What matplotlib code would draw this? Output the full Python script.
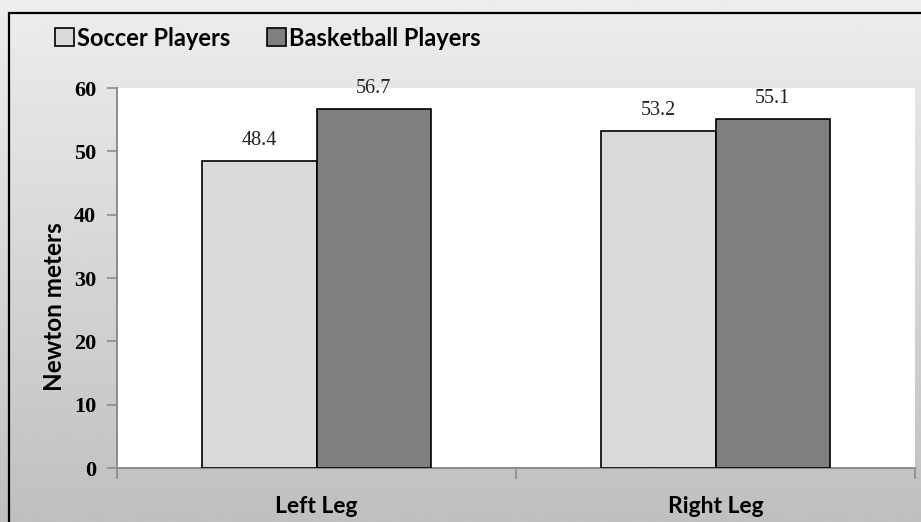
import matplotlib; matplotlib.use('Agg')
import matplotlib.pyplot as plt, numpy as np
from matplotlib.patches import Rectangle

W, H = 921, 522
fig = plt.figure(figsize=(W / 100, H / 100), dpi=100)

categories = ['Left Leg', 'Right Leg']
series_names = ['Soccer Players', 'Basketball Players']
soccer = [48.4, 53.2]
basketball = [56.7, 55.1]
yticks = [0, 10, 20, 30, 40, 50, 60]

LIGHT, DARK, AXIS = '#d9d9d9', '#7f7f7f', '#8c8c8c'
SERIF = 'Liberation Serif'
SANS = 'Lato'

# gradient backdrop behind everything
bg = fig.add_axes([0, 0, 1, 1], zorder=0)
grad = np.linspace(0.93, 0.75, 256).reshape(-1, 1)
bg.imshow(grad, cmap='gray', vmin=0, vmax=1, aspect='auto', extent=[0, 1, 0, 1])
bg.set_xlim(0, 1); bg.set_ylim(0, 1)
bg.axis('off')
# chart frame (left and top visible)
bg.add_patch(Rectangle((9 / W, -0.05), 1.2, (H - 13) / H + 0.05, fill=False,
                       edgecolor='black', lw=1.6, transform=bg.transAxes))

# plot area in pixel coordinates
x0, x1, y0, y1 = 117, 915, 468, 88
ax = fig.add_axes([x0 / W, (H - y0) / H, (x1 - x0) / W, (y0 - y1) / H], zorder=1)
ax.set_facecolor('white')

x = np.arange(len(categories))
bw = 0.286
b1 = ax.bar(x - bw / 2, soccer, bw, color=LIGHT, edgecolor='black', lw=1.2, zorder=3)
b2 = ax.bar(x + bw / 2, basketball, bw, color=DARK, edgecolor='black', lw=1.2, zorder=3)

for bars, vals in [(b1, soccer), (b2, basketball)]:
    for r, v in zip(bars, vals):
        ax.annotate(f'{v:.1f}', (r.get_x() + r.get_width() / 2, v),
                    xytext=(0, 8), textcoords='offset points', ha='center',
                    va='bottom', fontsize=14.5, family=SERIF, color='#222222',
                    annotation_clip=False)

ax.set_xlim(-0.5, len(categories) - 0.5)
ax.set_ylim(0, 60)
ax.set_yticks(yticks)
ax.set_yticklabels([str(t) for t in yticks], fontsize=16, fontweight='bold', family=SERIF)
ax.set_xticks(np.arange(len(categories) + 1) - 0.5)
ax.set_xticklabels([])
ax.set_xticks(x, minor=True)
ax.set_xticklabels(categories, minor=True, fontsize=16.5, fontweight='bold', family=SANS)
ax.tick_params(axis='x', which='minor', length=0, pad=20)
ax.tick_params(axis='x', which='major', length=8, color=AXIS, width=1.2)
ax.tick_params(axis='y', length=7, color=AXIS, width=1.2, pad=8)

for s in ['top', 'right']:
    ax.spines[s].set_visible(False)
for s in ['left', 'bottom']:
    ax.spines[s].set_color(AXIS)
    ax.spines[s].set_linewidth(1.4)

fig.text(55 / W, 1 - 307 / H, 'Newton meters', rotation=90, ha='center', va='center',
         fontsize=17.5, fontweight='bold', family=SANS)

leg = fig.legend([b1, b2], series_names, loc='center left', bbox_to_anchor=(34 / W, 1 - 38 / H),
                 ncol=2, frameon=False, handlelength=0.8, handleheight=0.8,
                 handletextpad=0.12, columnspacing=1.55,
                 prop={'family': SANS, 'weight': 'bold', 'size': 17})

fig.savefig('out.png', dpi=100)
plt.close(fig)
